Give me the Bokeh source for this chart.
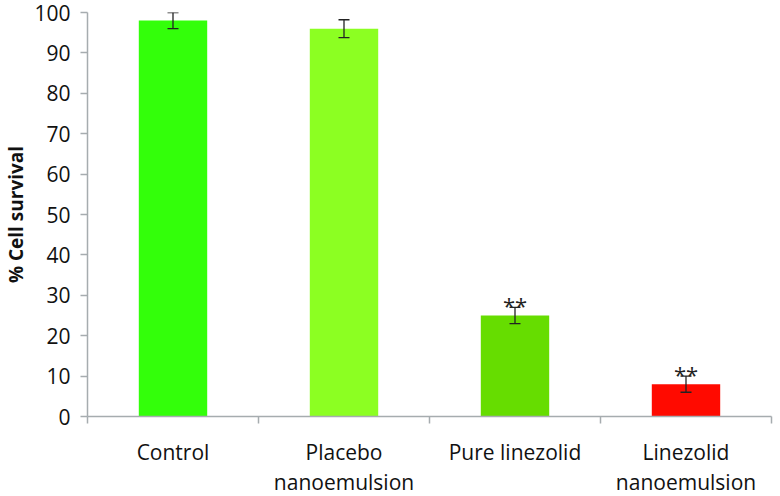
from bokeh.plotting import figure
from bokeh.models import (ColumnDataSource, Range1d, LinearAxis, FixedTicker,
                          Whisker, TeeHead)
from bokeh.core.properties import value
from bokeh.embed import file_html
from bokeh.resources import INLINE

categories = ["Control", "Placebo\nnanoemulsion", "Pure linezolid", "Linezolid\nnanoemulsion"]
survival = [98, 96, 25, 8]
errors = [2, 2.2, 2, 2]
colors = ["#33FF0A", "#8CFF22", "#66DD00", "#FF0A00"]
sig_labels = ["", "", "**", "**"]
y_ticks = [0, 10, 20, 30, 40, 50, 60, 70, 80, 90, 100]

xs = [i + 1 for i in range(len(categories))]
upper = [v + e for v, e in zip(survival, errors)]
lower = [v - e for v, e in zip(survival, errors)]

src = ColumnDataSource(dict(x=xs, top=survival, upper=upper, lower=lower,
                            color=colors, sig=sig_labels))

FONT = "Open Sans"
AXIS_COLOR = "#A6ACAF"
TEXT = "#111111"

p = figure(width=764, height=480, output_backend="svg", toolbar_location=None,
           x_range=Range1d(0.5, len(categories) + 0.5), y_range=Range1d(0, 100),
           x_axis_location=None, y_axis_location=None,
           min_border_left=78, min_border_right=2, min_border_top=12,
           min_border_bottom=4, outline_line_color=None)
p.frame_width = 684
p.frame_height = 404
p.xgrid.visible = False
p.ygrid.visible = False

p.vbar(x="x", top="top", width=0.4, source=src, fill_color="color", line_color=None)

p.add_layout(Whisker(source=src, base="x", upper="upper", lower="lower",
                     level="overlay", line_color="#222222", line_width=1.3,
                     upper_head=TeeHead(size=11, line_color="#222222", line_width=1.3),
                     lower_head=TeeHead(size=11, line_color="#222222", line_width=1.3)))

p.text(x="x", y="upper", text="sig", source=src, text_align="center",
       text_baseline="alphabetic", y_offset=-2, text_font=value(FONT),
       text_font_size="22px", text_color="#222222")

# y axis
yax = LinearAxis(ticker=FixedTicker(ticks=y_ticks), axis_label="% Cell survival")
yax.axis_line_color = AXIS_COLOR
yax.axis_line_width = 1.5
yax.major_tick_line_color = AXIS_COLOR
yax.major_tick_line_width = 1.5
yax.major_tick_out = 7
yax.major_tick_in = 0
yax.minor_tick_line_color = None
yax.major_label_text_font = FONT
yax.major_label_text_font_size = "21px"
yax.major_label_text_color = TEXT
yax.major_label_standoff = 10
yax.axis_label_text_font = FONT
yax.axis_label_text_font_size = "19px"
yax.axis_label_text_font_style = "bold"
yax.axis_label_text_color = TEXT
yax.axis_label_standoff = 2
p.add_layout(yax, "left")

# x axis with ticks at category boundaries
bounds = [i + 0.5 for i in range(len(categories) + 1)]
tax = LinearAxis(ticker=FixedTicker(ticks=bounds),
                 major_label_overrides={b: "" for b in bounds})
tax.axis_line_color = AXIS_COLOR
tax.axis_line_width = 1.5
tax.major_tick_line_color = AXIS_COLOR
tax.major_tick_line_width = 1.5
tax.major_tick_out = 7
tax.major_tick_in = 0
tax.minor_tick_line_color = None
tax.major_label_text_font_size = "1px"
tax.major_label_standoff = 0
p.add_layout(tax, "below")

# category labels
lax = LinearAxis(ticker=FixedTicker(ticks=xs),
                 major_label_overrides={x: c for x, c in zip(xs, categories)})
lax.axis_line_color = None
lax.major_tick_line_color = None
lax.minor_tick_line_color = None
lax.major_label_text_font = FONT
lax.major_label_text_font_size = "21px"
lax.major_label_text_line_height = 1.1
lax.major_label_text_color = TEXT
lax.major_label_standoff = 8
p.add_layout(lax, "below")

open("out.html", "w").write(file_html(p, INLINE))
